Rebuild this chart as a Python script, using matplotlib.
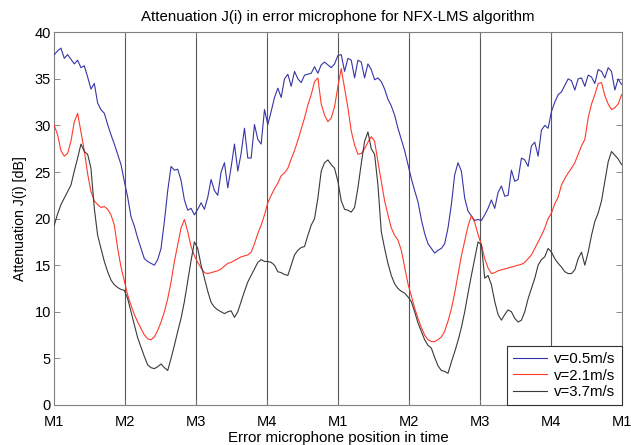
import numpy as np
import matplotlib
matplotlib.use('Agg')
import matplotlib.pyplot as plt

plt.rcParams['font.family'] = ['Liberation Sans', 'DejaVu Sans']

# attenuation samples, evenly spaced from M1 to the next M1
blue = [37.6, 38.0, 38.3, 37.2, 37.6, 37.1, 36.6, 37.0, 36.2, 36.4,
        35.2, 33.9, 34.5, 32.4, 31.7, 31.3, 30.1, 29.0, 28.0, 26.9,
        25.8, 24.0, 22.3, 20.2, 19.2, 17.9, 16.8, 15.7, 15.4, 15.2,
        15.0, 15.6, 16.8, 19.7, 23.0, 25.6, 25.2, 25.3, 24.1, 22.0,
        20.9, 21.1, 20.4, 21.0, 21.7, 21.0, 22.3, 24.2, 23.0, 22.5,
        25.0, 26.0, 23.3, 25.5, 28.0, 25.1, 27.0, 29.7, 26.5, 26.5,
        30.1, 28.5, 28.0, 31.7, 30.1, 31.5, 33.0, 34.0, 33.0, 35.0,
        35.5, 34.2, 35.8, 35.0, 34.6, 35.4, 35.5, 35.6, 36.3, 35.6,
        36.5, 36.8, 36.5, 36.2, 36.6, 37.5, 37.6, 35.8, 37.2, 37.0,
        35.1, 37.0, 36.8, 35.1, 36.6, 36.0, 34.9, 35.1, 34.7, 33.9,
        32.8, 32.1, 31.1, 29.7, 28.5, 27.3, 25.8, 24.3, 23.0, 21.8,
        19.9, 18.4, 17.3, 16.8, 16.3, 16.6, 16.8, 17.3, 19.0, 21.5,
        24.7, 26.0, 25.1, 22.2, 20.8, 20.3, 19.8, 19.9, 19.8, 20.4,
        21.1, 22.0, 21.1, 22.8, 23.5, 22.4, 22.5, 25.2, 24.0, 24.2,
        26.5, 26.3, 25.6, 27.8, 28.2, 26.7, 29.5, 30.0, 29.7, 31.5,
        32.5, 33.3, 33.6, 34.3, 35.0, 34.8, 33.8, 35.0, 35.1, 34.2,
        35.4, 35.2, 34.5, 36.0, 35.8, 35.1, 36.2, 35.8, 33.8, 35.0,
        34.4]

red = [30.0, 29.0, 27.3, 26.7, 27.0, 28.3, 30.4, 31.3, 29.3, 27.3,
       24.8, 22.9, 21.9, 21.5, 21.2, 21.3, 21.0, 20.4, 19.3, 16.8,
       14.8, 13.3, 11.8, 10.7, 9.7, 8.9, 8.2, 7.5, 7.1, 7.0,
       7.3, 8.0, 8.9, 10.0, 11.4, 13.2, 15.4, 17.2, 19.0, 19.9,
       18.6, 17.0, 16.0, 15.3, 14.7, 14.2, 14.1, 14.2, 14.3, 14.4,
       14.6, 14.9, 15.2, 15.3, 15.5, 15.7, 15.9, 16.0, 16.1, 16.4,
       17.3, 18.4, 19.3, 20.4, 21.7, 22.5, 23.2, 23.8, 24.6, 24.9,
       25.4, 26.4, 27.3, 28.4, 29.6, 30.8, 32.2, 33.3, 34.7, 35.1,
       32.3, 31.1, 30.4, 30.8, 32.0, 34.2, 36.1, 34.0, 31.9, 29.4,
       27.9, 26.9, 27.0, 27.5, 28.2, 28.8, 28.3, 26.1, 24.0, 21.9,
       20.4, 19.0, 18.2, 17.7, 16.6, 14.8, 13.0, 11.7, 10.4, 9.3,
       8.3, 7.5, 7.0, 6.8, 6.8, 7.0, 7.3, 7.9, 9.0, 10.3,
       12.0, 14.0, 16.0, 17.6, 19.2, 20.3, 19.6, 18.3, 17.2, 15.7,
       14.7, 14.1, 14.2, 14.4, 14.5, 14.6, 14.7, 14.8, 14.9, 15.0,
       15.1, 15.3, 15.7, 16.1, 16.8, 17.5, 18.2, 19.0, 20.0, 20.6,
       21.6, 22.3, 23.6, 24.3, 24.9, 25.4, 26.0, 26.9, 27.8, 28.5,
       30.8, 32.3, 33.3, 34.5, 34.6, 33.2, 32.3, 31.7, 31.9, 32.3,
       33.3]

black = [19.3, 20.5, 21.5, 22.2, 22.9, 23.6, 25.1, 26.5, 28.0, 27.2,
         26.9, 25.4, 21.1, 18.2, 16.8, 15.4, 14.3, 13.4, 12.9, 12.6,
         12.4, 12.3, 11.4, 10.0, 8.6, 7.2, 6.2, 5.2, 4.3, 4.0,
         3.9, 4.1, 4.4, 4.0, 3.7, 5.0, 6.4, 7.9, 9.3, 11.1,
         13.3, 15.5, 17.5, 16.8, 15.0, 13.6, 12.2, 11.0, 10.5, 10.2,
         10.0, 9.8, 10.0, 10.1, 9.4, 10.0, 11.1, 12.2, 13.2, 13.9,
         14.6, 15.3, 15.6, 15.4, 15.4, 15.3, 15.0, 14.3, 14.2, 14.0,
         13.9, 15.0, 16.1, 16.6, 16.9, 17.0, 18.2, 19.3, 20.0, 22.2,
         25.1, 26.0, 26.3, 25.8, 25.4, 24.0, 21.9, 21.0, 20.9, 20.7,
         21.2, 23.3, 25.9, 28.3, 29.3, 27.5, 26.9, 23.6, 18.6, 16.8,
         15.2, 13.9, 13.0, 12.5, 12.2, 12.0, 11.6, 11.1, 10.0, 8.8,
         7.9, 7.0, 6.4, 6.1, 5.1, 4.2, 3.7, 3.6, 3.4, 4.6,
         5.7, 6.9, 8.3, 10.0, 12.0, 13.9, 15.7, 17.5, 17.2, 13.6,
         13.9, 12.9, 11.1, 9.7, 9.1, 9.7, 10.2, 10.0, 9.3, 8.9,
         9.1, 10.0, 11.4, 12.5, 13.6, 15.0, 15.6, 15.9, 16.8, 16.4,
         15.7, 15.2, 14.8, 14.3, 14.1, 14.1, 14.5, 15.7, 16.4, 15.0,
         16.4, 18.2, 19.7, 20.6, 21.9, 24.0, 26.1, 27.2, 26.8, 26.4,
         25.8]

mic_labels = ['M1', 'M2', 'M3', 'M4', 'M1', 'M2', 'M3', 'M4', 'M1']
legend_labels = ['v=0.5m/s', 'v=2.1m/s', 'v=3.7m/s']

pos = np.linspace(0, len(mic_labels) - 1, len(blue))

fig = plt.figure(figsize=(6.31, 4.45), dpi=100)
ax = fig.add_axes([0.086, 0.090, 0.899, 0.8375])

for xm in range(1, len(mic_labels) - 1):
    ax.axvline(xm, color='#555555', lw=0.8, zorder=1)

ax.plot(pos, blue, color='#3535a8', lw=0.8, label=legend_labels[0], zorder=3)
ax.plot(pos, red, color='#ff3a2a', lw=0.8, label=legend_labels[1], zorder=3)
ax.plot(pos, black, color='#3a3a3a', lw=0.8, label=legend_labels[2], zorder=3)

ax.set_xlim(0, len(mic_labels) - 1)
ax.set_ylim(0, 40)
ax.set_xticks(range(len(mic_labels)))
ax.set_xticklabels(mic_labels)
ax.set_yticks(range(0, 41, 5))
ax.tick_params(direction='in', length=4, width=0.6, color='#777777',
               labelsize=10.5, top=True, right=True)
ax.tick_params(axis='x', pad=7)
ax.tick_params(axis='y', pad=2.5)
for s in ax.spines.values():
    s.set_color('#808080')
    s.set_linewidth(0.8)

ax.set_title('Attenuation J(i) in error microphone for NFX-LMS algorithm',
             fontsize=10.8, pad=8)
ax.set_xlabel('Error microphone position in time', fontsize=10.8, labelpad=1.5)
ax.set_ylabel('Attenuation J(i) [dB]', fontsize=10.2, labelpad=5.5)

leg = ax.legend(loc='lower right', fontsize=10.8, borderaxespad=0,
                fancybox=False, framealpha=1, edgecolor='#333333',
                handlelength=2.3, handletextpad=0.45, labelspacing=0.15,
                borderpad=0.4)
leg.get_frame().set_linewidth(0.8)

fig.savefig('out.png', dpi=100)
